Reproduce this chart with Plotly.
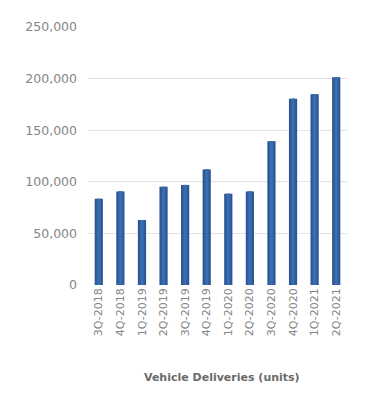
import plotly.graph_objects as go

quarters = ["3Q-2018", "4Q-2018", "1Q-2019", "2Q-2019", "3Q-2019", "4Q-2019",
            "1Q-2020", "2Q-2020", "3Q-2020", "4Q-2020", "1Q-2021", "2Q-2021"]
deliveries = [83500, 90700, 63000, 95200, 97000, 112000,
              88400, 90650, 139300, 180570, 184800, 201250]
y_ticks = [0, 50000, 100000, 150000, 200000, 250000]
y_tick_labels = ["0", "50,000", "100,000", "150,000", "200,000", "250,000"]

fig = go.Figure()
fig.add_trace(go.Bar(x=quarters, y=deliveries, width=0.38,
                     marker=dict(color="#2c5690", line=dict(width=0)),
                     hoverinfo="x+y"))
fig.add_trace(go.Bar(x=quarters, y=deliveries, width=0.22,
                     marker=dict(color="#3464a6", line=dict(width=0)),
                     hoverinfo="skip"))
fig.add_trace(go.Bar(x=quarters, y=deliveries, width=0.1,
                     marker=dict(color="#3a6db3", line=dict(width=0)),
                     hoverinfo="skip"))

font_fam = "DejaVu Sans, Lato, sans-serif"
fig.update_layout(
    width=370, height=404,
    margin=dict(l=80, r=31, t=19, b=127),
    barmode="overlay",
    showlegend=False,
    plot_bgcolor="white", paper_bgcolor="white",
    font=dict(family=font_fam, color="#858585", size=11),
    xaxis=dict(tickangle=-90, showgrid=False, zeroline=False, showline=False,
               ticks="", tickfont=dict(size=11, color="#858585")),
    yaxis=dict(range=[0, 250000], tickvals=y_ticks, ticktext=y_tick_labels,
               showgrid=True, gridcolor="#e3e3e3", gridwidth=1,
               zeroline=False, showline=False, ticks="",
               tickfont=dict(size=12.5, color="#858585"), ticklabelstandoff=10),
    annotations=[dict(text="<b>Vehicle Deliveries (units)</b>", xref="paper", yref="paper",
                      x=0.518, y=-0.36, showarrow=False, xanchor="center", yanchor="middle",
                      font=dict(size=11, color="#6a6a6a", family=font_fam))],
)
fig.write_html("out.html")
